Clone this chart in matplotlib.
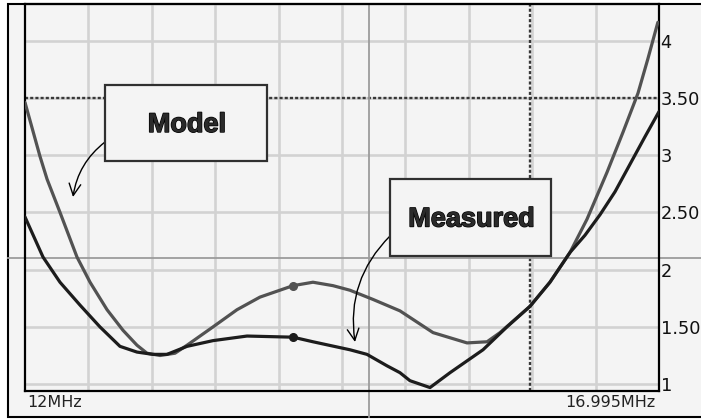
"""SWR sweep 12-17 MHz: model vs measured, analyser-screen style."""
import numpy as np
import matplotlib.pyplot as plt
import matplotlib.patheffects as pe
from matplotlib.patches import Rectangle

W, H = 701, 419

# values (MHz, SWR)
freq_model = [12.000, 12.118, 12.174, 12.276, 12.410, 12.513, 12.647, 12.773, 12.883, 12.962,
              13.065, 13.183, 13.278, 13.483, 13.672, 13.853, 14.114, 14.271, 14.429, 14.563,
              14.744, 14.957, 15.218, 15.486, 15.644, 15.746, 15.983, 16.140, 16.298, 16.432,
              16.590, 16.716, 16.834, 16.912, 16.991]
swr_model = [3.46, 2.99, 2.79, 2.50, 2.11, 1.89, 1.65, 1.47, 1.34, 1.27,
             1.25, 1.27, 1.34, 1.50, 1.65, 1.76, 1.86, 1.89, 1.86, 1.82,
             1.74, 1.64, 1.45, 1.36, 1.37, 1.45, 1.68, 1.89, 2.15, 2.44,
             2.85, 3.20, 3.54, 3.84, 4.16]

freq_meas = [12.000, 12.142, 12.276, 12.434, 12.591, 12.749, 12.883, 13.009, 13.120, 13.278,
             13.483, 13.751, 14.114, 14.271, 14.563, 14.697, 14.855, 14.957, 15.036, 15.194,
             15.352, 15.612, 15.801, 15.983, 16.140, 16.298, 16.416, 16.535, 16.653, 16.771,
             16.889, 17.000]
swr_meas = [2.46, 2.11, 1.89, 1.69, 1.50, 1.33, 1.28, 1.26, 1.26, 1.33,
            1.38, 1.42, 1.41, 1.37, 1.30, 1.26, 1.16, 1.10, 1.03, 0.97,
            1.10, 1.30, 1.50, 1.68, 1.89, 2.15, 2.30, 2.48, 2.68, 2.92,
            3.16, 3.38]

marker_freq = 14.11
marker_model = 1.86
marker_meas = 1.41

limit_swr = 3.5
limit_freq = 15.98
cursor_freq = 14.71
cursor_swr = 2.10

ytick_vals = [1, 1.5, 2, 2.5, 3, 3.5, 4]
ytick_labels = ["1", "1.50", "2", "2.50", "3", "3.50", "4"]
grid_freqs = np.arange(12.5, 16.75, 0.5)
start_label, stop_label = "12MHz", "16.995MHz"

BG = "#f4f4f4"
GRID = "#d2d2d2"


def figpx(x, y):
    """screen pixel (top-left origin) -> figure fraction"""
    return x / W, 1 - y / H


fig = plt.figure(figsize=(W / 100, H / 100), dpi=100)
fig.patch.set_facecolor("white")
fig.add_artist(Rectangle(figpx(8, 417), 1.0, 413 / H, transform=fig.transFigure,
                         facecolor=BG, edgecolor="black", lw=1.5, zorder=-1))

ax = fig.add_axes([25 / W, (H - 391) / H, 634 / W, 387 / H])
ax.set_facecolor("none")
ax.set_xlim(12, 17)
ax.set_ylim(0.94, 4.32)
for side in ["left", "bottom", "right", "top"]:
    ax.spines[side].set_color("black")
    ax.spines[side].set_linewidth(1.6)

for f in grid_freqs:
    ax.axvline(f, color=GRID, lw=1.9, zorder=1)
for s in ytick_vals:
    ax.axhline(s, color=GRID, lw=1.9, zorder=1)

# limit markers (dotted) and cursor crosshair (grey, runs past the plot)
ax.axhline(limit_swr, color="#383838", lw=1.7, ls=(0, (1.3, 0.9)), zorder=2)
ax.axvline(limit_freq, color="#383838", lw=1.7, ls=(0, (1.3, 0.9)), zorder=2)
ax.axhline(cursor_swr, xmin=-17 / 634, xmax=1.08, color="#9c9c9c", lw=1.3,
           clip_on=False, zorder=2)
ax.axvline(cursor_freq, ymin=-26 / 387, ymax=1, color="#9c9c9c", lw=1.3,
           clip_on=False, zorder=2)

ax.plot(freq_model, swr_model, color="#525252", lw=2.3, zorder=4,
        solid_joinstyle="round", solid_capstyle="round")
ax.plot(freq_meas, swr_meas, color="#1c1c1c", lw=2.3, zorder=4,
        solid_joinstyle="round", solid_capstyle="round")
ax.plot([marker_freq], [marker_model], "o", ms=5.5, color="#525252", zorder=5)
ax.plot([marker_freq], [marker_meas], "o", ms=5.5, color="#1c1c1c", zorder=5)

ax.set_xticks([])
ax.yaxis.tick_right()
ax.set_yticks(ytick_vals)
ax.set_yticklabels(ytick_labels)
ax.tick_params(axis="y", length=0, pad=1.2, labelsize=12.8, labelcolor="#111111")

xt = ax.get_xaxis_transform()
ax.text(12.02, -0.031, start_label, transform=xt, ha="left", va="center",
        fontsize=11.5, color="#222222", clip_on=False)
ax.text(16.97, -0.031, stop_label, transform=xt, ha="right", va="center",
        fontsize=11.5, color="#222222", clip_on=False)

# callout boxes
label_fx = [pe.withStroke(linewidth=1.0, foreground="black")]
for (x0, y0, x1, y1), txt in [((105, 85, 267, 161), "Model"),
                              ((390, 179, 551, 256), "Measured")]:
    fig.add_artist(Rectangle(figpx(x0, y1), (x1 - x0) / W, (y1 - y0) / H,
                             transform=fig.transFigure, facecolor=BG,
                             edgecolor="#303030", lw=1.6, zorder=6))
    cx, cy = figpx((x0 + x1) / 2 + 1, (y0 + y1) / 2 + 2)
    fig.text(cx, cy, txt, ha="center", va="center", fontsize=19.5,
             fontweight="bold", family="Liberation Sans", color="#2a2a2a",
             path_effects=label_fx, zorder=7)

arrow = dict(arrowstyle="->,head_length=0.7,head_width=0.35", color="black",
             lw=1.0, shrinkA=0, shrinkB=0, mutation_scale=12)
ax.annotate("", xy=(73, H - 197), xycoords="figure pixels",
            xytext=(105, H - 142), textcoords="figure pixels",
            arrowprops=dict(arrow, connectionstyle="arc3,rad=0.2"),
            annotation_clip=False, zorder=7)
ax.annotate("", xy=(355, H - 342), xycoords="figure pixels",
            xytext=(390, H - 236), textcoords="figure pixels",
            arrowprops=dict(arrow, connectionstyle="arc3,rad=0.25"),
            annotation_clip=False, zorder=7)

fig.savefig("out.png", dpi=100)
plt.close(fig)
